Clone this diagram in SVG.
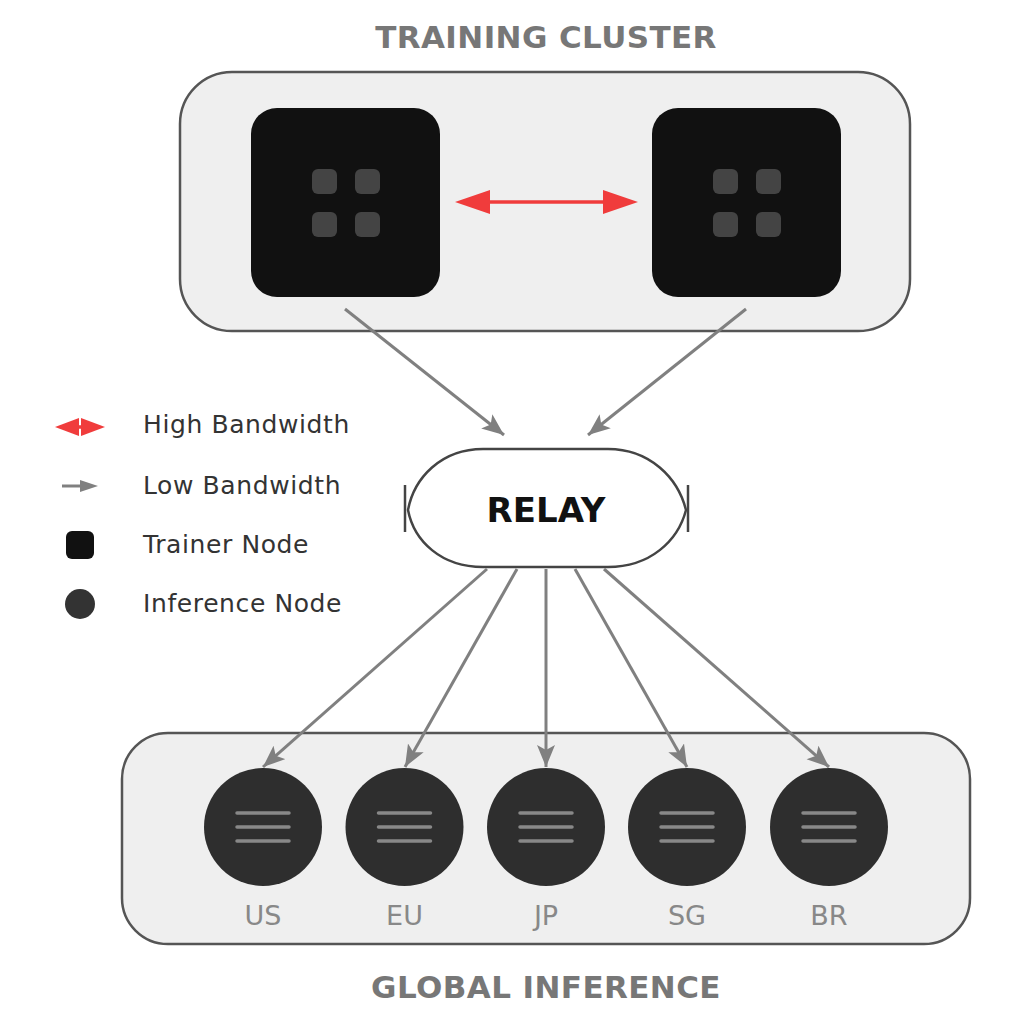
<svg xmlns="http://www.w3.org/2000/svg" width="1024" height="1024" viewBox="0 0 1024 1024">
<defs>
<marker id="gray" markerUnits="userSpaceOnUse" markerWidth="24" markerHeight="20" refX="22" refY="9" orient="auto"><path d="M0,0 L22,9 L0,18 L5,9 Z" fill="#808080"/></marker>
</defs>
<style>
.cluster{fill:#efefef;stroke:#555;stroke-width:2.5}
.trainer{fill:#111}
.chip{fill:#444}
.inf{fill:#2e2e2e}
.bar{stroke:#888;stroke-width:3.5;stroke-linecap:round}
.lbl{font-family:"DejaVu Sans",sans-serif;font-size:27px;fill:#888;text-anchor:middle}
.title{font-family:"DejaVu Sans",sans-serif;font-weight:bold;font-size:31px;fill:#777;text-anchor:middle;letter-spacing:0.4px}
.leg{font-family:"DejaVu Sans",sans-serif;font-size:25px;fill:#333;letter-spacing:0.6px}
.low{stroke:#808080;stroke-width:3;fill:none;marker-end:url(#gray)}
.red{fill:#f03c3c}
</style>
<rect width="1024" height="1024" fill="#fff"/>
<g id="training-cluster">
<text class="title" x="546" y="48">TRAINING CLUSTER</text>
<rect class="cluster" x="180" y="72" width="730" height="259" rx="52"/>
</g>
<g id="global-inference">
<rect class="cluster" x="122" y="733" width="848" height="211" rx="46"/>
<text class="title" x="546" y="998">GLOBAL INFERENCE</text>
</g>
<g id="trainer-1">
<rect class="trainer" x="251" y="108" width="189" height="189" rx="26"/>
<rect class="chip" x="312" y="169" width="25" height="25" rx="6"/>
<rect class="chip" x="355" y="169" width="25" height="25" rx="6"/>
<rect class="chip" x="312" y="212" width="25" height="25" rx="6"/>
<rect class="chip" x="355" y="212" width="25" height="25" rx="6"/>
</g>
<g id="trainer-2">
<rect class="trainer" x="652" y="108" width="189" height="189" rx="26"/>
<rect class="chip" x="713" y="169" width="25" height="25" rx="6"/>
<rect class="chip" x="756" y="169" width="25" height="25" rx="6"/>
<rect class="chip" x="713" y="212" width="25" height="25" rx="6"/>
<rect class="chip" x="756" y="212" width="25" height="25" rx="6"/>
</g>
<g id="relay">
<path d="M483,449 L608,449 C650,449 678,478 686,510 C678,541 650,567 608,567 L483,567 C441,567 414,541 408,510 C414,478 441,449 483,449 Z" fill="#fff" stroke="#444" stroke-width="2.5"/>
<line x1="405" y1="485" x2="405" y2="532" stroke="#444" stroke-width="2.5"/>
<line x1="688" y1="485" x2="688" y2="532" stroke="#444" stroke-width="2.5"/>
<text x="546" y="522" font-family="DejaVu Sans,sans-serif" font-weight="bold" font-size="34" fill="#111" text-anchor="middle">RELAY</text>
</g>
<g id="inf-us"><circle class="inf" cx="263" cy="827" r="59"/><line class="bar" x1="237" y1="813" x2="289" y2="813"/><line class="bar" x1="237" y1="827" x2="289" y2="827"/><line class="bar" x1="237" y1="841" x2="289" y2="841"/><text class="lbl" x="263" y="925">US</text></g>
<g id="inf-eu"><circle class="inf" cx="404.5" cy="827" r="59"/><line class="bar" x1="378.5" y1="813" x2="430.5" y2="813"/><line class="bar" x1="378.5" y1="827" x2="430.5" y2="827"/><line class="bar" x1="378.5" y1="841" x2="430.5" y2="841"/><text class="lbl" x="404.5" y="925">EU</text></g>
<g id="inf-jp"><circle class="inf" cx="546" cy="827" r="59"/><line class="bar" x1="520" y1="813" x2="572" y2="813"/><line class="bar" x1="520" y1="827" x2="572" y2="827"/><line class="bar" x1="520" y1="841" x2="572" y2="841"/><text class="lbl" x="546" y="925">JP</text></g>
<g id="inf-sg"><circle class="inf" cx="687" cy="827" r="59"/><line class="bar" x1="661" y1="813" x2="713" y2="813"/><line class="bar" x1="661" y1="827" x2="713" y2="827"/><line class="bar" x1="661" y1="841" x2="713" y2="841"/><text class="lbl" x="687" y="925">SG</text></g>
<g id="inf-br"><circle class="inf" cx="829" cy="827" r="59"/><line class="bar" x1="803" y1="813" x2="855" y2="813"/><line class="bar" x1="803" y1="827" x2="855" y2="827"/><line class="bar" x1="803" y1="841" x2="855" y2="841"/><text class="lbl" x="829" y="925">BR</text></g>
<g id="connectors">
<line x1="485" y1="202" x2="608" y2="202" stroke="#f03c3c" stroke-width="3.5"/>
<path class="red" d="M455,202 L490,190 L490,214 Z"/>
<path class="red" d="M638,202 L603,190 L603,214 Z"/>
<line class="low" x1="345" y1="309" x2="504" y2="435"/>
<line class="low" x1="746" y1="309" x2="588" y2="435"/>
<line class="low" x1="487" y1="569" x2="263" y2="767"/>
<line class="low" x1="517" y1="569" x2="405" y2="767"/>
<line class="low" x1="546" y1="569" x2="546" y2="767"/>
<line class="low" x1="575" y1="569" x2="687" y2="767"/>
<line class="low" x1="604" y1="569" x2="829" y2="767"/>
</g>
<g id="legend">
<line x1="72" y1="427" x2="88" y2="427" stroke="#f03c3c" stroke-width="3.5"/>
<path class="red" d="M55,427 L79,418 L79,436 Z"/>
<path class="red" d="M105,427 L81,418 L81,436 Z"/>
<text class="leg" x="143" y="433">High Bandwidth</text>
<line x1="62" y1="486" x2="84" y2="486" stroke="#808080" stroke-width="3"/>
<path d="M98,486 L80,480 L80,492 Z" fill="#808080"/>
<text class="leg" x="143" y="494">Low Bandwidth</text>
<rect x="66" y="531" width="28" height="28" rx="6" fill="#111"/>
<text class="leg" x="143" y="553">Trainer Node</text>
<circle cx="80" cy="604" r="15" fill="#333"/>
<text class="leg" x="143" y="612">Inference Node</text>
</g>
</svg>
